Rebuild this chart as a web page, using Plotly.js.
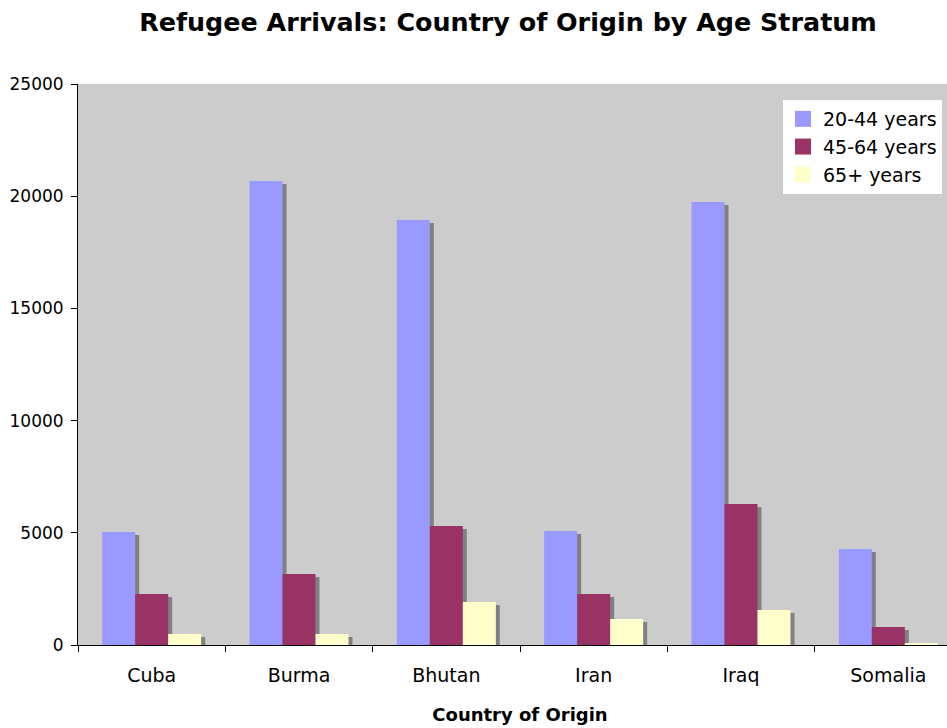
<!DOCTYPE html>
<html><head><meta charset="utf-8">
<script src="https://cdn.plot.ly/plotly-3.0.1.min.js"></script>
<style>html,body{margin:0;padding:0;overflow:hidden;background:#fff}#chart{width:965px;height:728px}</style>
</head><body><div id="chart"></div>
<script>
// ---- data ----
const countries = ['Cuba', 'Burma', 'Bhutan', 'Iran', 'Iraq', 'Somalia'];
const age20to44 = [5040, 20680, 18940, 5080, 19740, 4280];
const age45to64 = [2270, 3160, 5300, 2270, 6280, 800];
const age65plus = [490, 490, 1920, 1160, 1560, 90];
const seriesNames = ['20-44 years', '45-64 years', '65+ years'];
const yTickVals = [0, 5000, 10000, 15000, 20000, 25000];
const titleText = 'Refugee Arrivals: Country of Origin by Age Stratum';
const xTitleText = 'Country of Origin';

// ---- style ----
const colors = ['#9999FF', '#993366', '#FFFFCC'];
const shadowColor = '#808080';
const FONT = 'Verdana, "DejaVu Sans", sans-serif';
const W = 965, H = 728;
const margin = {l: 78, r: 3, t: 84, b: 83};
const plotW = W - margin.l - margin.r, plotH = H - margin.t - margin.b;
const yMax = 25000;
const shadowDxPx = 4, shadowDyPx = 3;
const nCat = countries.length;
const dxCat = shadowDxPx * nCat / plotW;
const dyVal = shadowDyPx * yMax / plotH;

const series = [age20to44, age45to64, age65plus];
const traces = [];
// shadows on base axes (shifted ranges)
series.forEach((vals, i) => {
  traces.push({type: 'bar', x: countries, y: vals, xaxis: 'x', yaxis: 'y',
    marker: {color: shadowColor, line: {width: 0}}, showlegend: false, hoverinfo: 'skip'});
});
// real bars on overlay axes
series.forEach((vals, i) => {
  traces.push({type: 'bar', x: countries, y: vals, name: seriesNames[i], xaxis: 'x2', yaxis: 'y2',
    marker: {color: colors[i], line: {width: 0}}, showlegend: false});
});
// legend entries
series.forEach((vals, i) => {
  traces.push({type: 'scatter', mode: 'markers', x: [null], y: [null], name: seriesNames[i],
    xaxis: 'x2', yaxis: 'y2', marker: {symbol: 'square', size: 16, color: colors[i]}, showlegend: true});
});

const layout = {
  width: W, height: H,
  margin: margin,
  paper_bgcolor: '#FFFFFF',
  plot_bgcolor: '#CCCCCC',
  font: {family: FONT, color: '#000000'},
  barmode: 'group', bargap: 0.328, bargroupgap: 0,
  title: {text: '<b>' + titleText + '</b>', font: {family: FONT, size: 25.4, color: '#000'},
    x: 508 / W, xref: 'container', xanchor: 'center', y: 1 - 22 / H, yref: 'container', yanchor: 'middle'},
  showlegend: true,
  legend: {x: 0.7975, y: 0.9715, xanchor: 'left', yanchor: 'top', bgcolor: '#FFFFFF', borderwidth: 0,
    font: {family: FONT, size: 19, color: '#000'}, itemclick: false, tracegroupgap: 0},
  xaxis: {type: 'category', categoryarray: countries, range: [-0.5 - dxCat, nCat - 0.5 - dxCat],
    showticklabels: false, ticks: '', showline: false, showgrid: false, zeroline: false, fixedrange: true},
  yaxis: {range: [dyVal, yMax + dyVal], showticklabels: false, ticks: '', showline: false,
    showgrid: false, zeroline: false, fixedrange: true},
  xaxis2: {type: 'category', categoryarray: countries, overlaying: 'x', anchor: 'y2', side: 'bottom',
    range: [-0.5, nCat - 0.5], showline: true, linecolor: '#000', linewidth: 1, ticks: 'outside', tickson: 'boundaries',
    ticklen: 6, tickcolor: '#000', showgrid: false, zeroline: false, ticklabelstandoff: 13,
    tickfont: {family: FONT, size: 19, color: '#000'},
    title: {text: '<b>' + xTitleText + '</b>', font: {family: FONT, size: 18, color: '#000'}, standoff: 23}},
  yaxis2: {overlaying: 'y', anchor: 'x2', side: 'left', range: [0, yMax], tickvals: yTickVals,
    ticktext: yTickVals.map(String), showline: true, linecolor: '#000', linewidth: 1, ticks: 'outside',
    ticklen: 6, tickcolor: '#000', showgrid: false, zeroline: false, ticklabelstandoff: 4,
    tickfont: {family: FONT, size: 17, color: '#000'}}
};

Plotly.newPlot('chart', traces, layout, {displayModeBar: false, staticPlot: true});
</script></body></html>
